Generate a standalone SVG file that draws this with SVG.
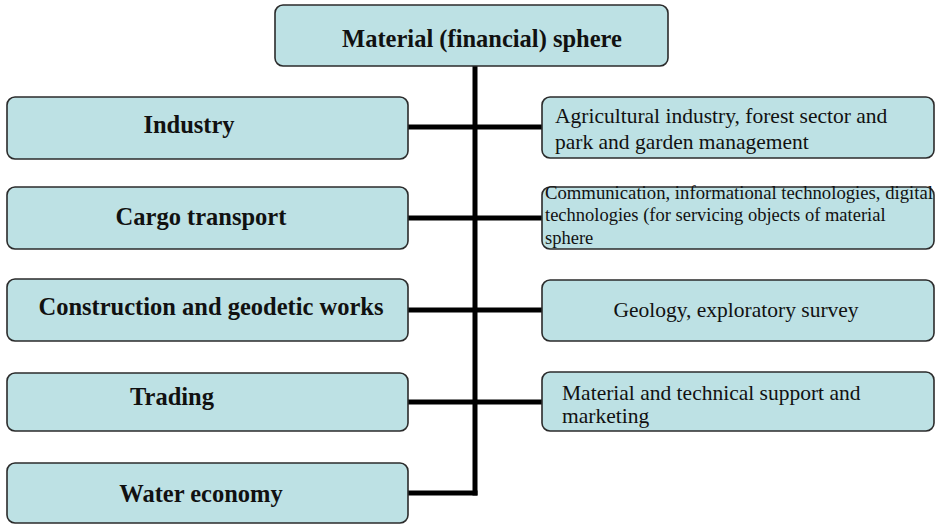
<svg xmlns="http://www.w3.org/2000/svg" width="935" height="525" viewBox="0 0 935 525">
<style>
.box{fill:#bde1e4;stroke:#2b2b2b;stroke-width:1.6}
.f{font-family:'Liberation Serif','Times New Roman',Times,'DejaVu Serif',serif;fill:#111}
.b{font-weight:bold;font-size:24.5px;text-anchor:middle}
.r{font-size:21.5px}
.s{font-size:18.5px}
.c{stroke:#000;stroke-width:5;fill:none}
</style>
<rect width="935" height="525" fill="#fff"/>
<g id="connectors">
<line class="c" x1="475" y1="66" x2="475" y2="495.5"/>
<line class="c" x1="408" y1="127" x2="542" y2="127"/>
<line class="c" x1="408" y1="218" x2="542" y2="218"/>
<line class="c" x1="408" y1="310" x2="542" y2="310"/>
<line class="c" x1="408" y1="402" x2="542" y2="402"/>
<line class="c" x1="408" y1="493" x2="477.5" y2="493"/>
</g>
<g id="root">
<rect class="box" x="275" y="5" width="393" height="61" rx="8"/>
<text class="f b" x="482" y="47">Material (financial) sphere</text>
</g>
<g id="industry">
<rect class="box" x="7" y="97" width="401" height="62" rx="8"/>
<text class="f b" x="189" y="133">Industry</text>
</g>
<g id="cargo">
<rect class="box" x="7" y="187" width="401" height="62" rx="8"/>
<text class="f b" x="201" y="225">Cargo transport</text>
</g>
<g id="construction">
<rect class="box" x="7" y="279" width="401" height="62" rx="8"/>
<text class="f b" x="211" y="315">Construction and geodetic works</text>
</g>
<g id="trading">
<rect class="box" x="7" y="373" width="401" height="58" rx="8"/>
<text class="f b" x="172" y="405">Trading</text>
</g>
<g id="water">
<rect class="box" x="7" y="463" width="401" height="60" rx="8"/>
<text class="f b" x="201" y="502">Water economy</text>
</g>
<g id="agriculture">
<rect class="box" x="542" y="97" width="392" height="61" rx="8"/>
<text class="f r" x="555" y="123">Agricultural industry, forest sector and</text>
<text class="f r" x="555" y="149">park and garden management</text>
</g>
<g id="communication">
<rect class="box" x="542" y="187" width="392" height="62" rx="8"/>
<text class="f s" x="545" y="199" textLength="388" lengthAdjust="spacingAndGlyphs">Communication, informational technologies, digital</text>
<text class="f s" x="545" y="221">technologies (for servicing objects of material</text>
<text class="f s" x="545" y="244">sphere</text>
</g>
<g id="geology">
<rect class="box" x="542" y="280" width="392" height="61" rx="8"/>
<text class="f r" x="736" y="317" text-anchor="middle">Geology, exploratory survey</text>
</g>
<g id="support">
<rect class="box" x="542" y="372" width="392" height="59" rx="8"/>
<text class="f r" x="562" y="400">Material and technical support and</text>
<text class="f r" x="562" y="423">marketing</text>
</g>
</svg>
